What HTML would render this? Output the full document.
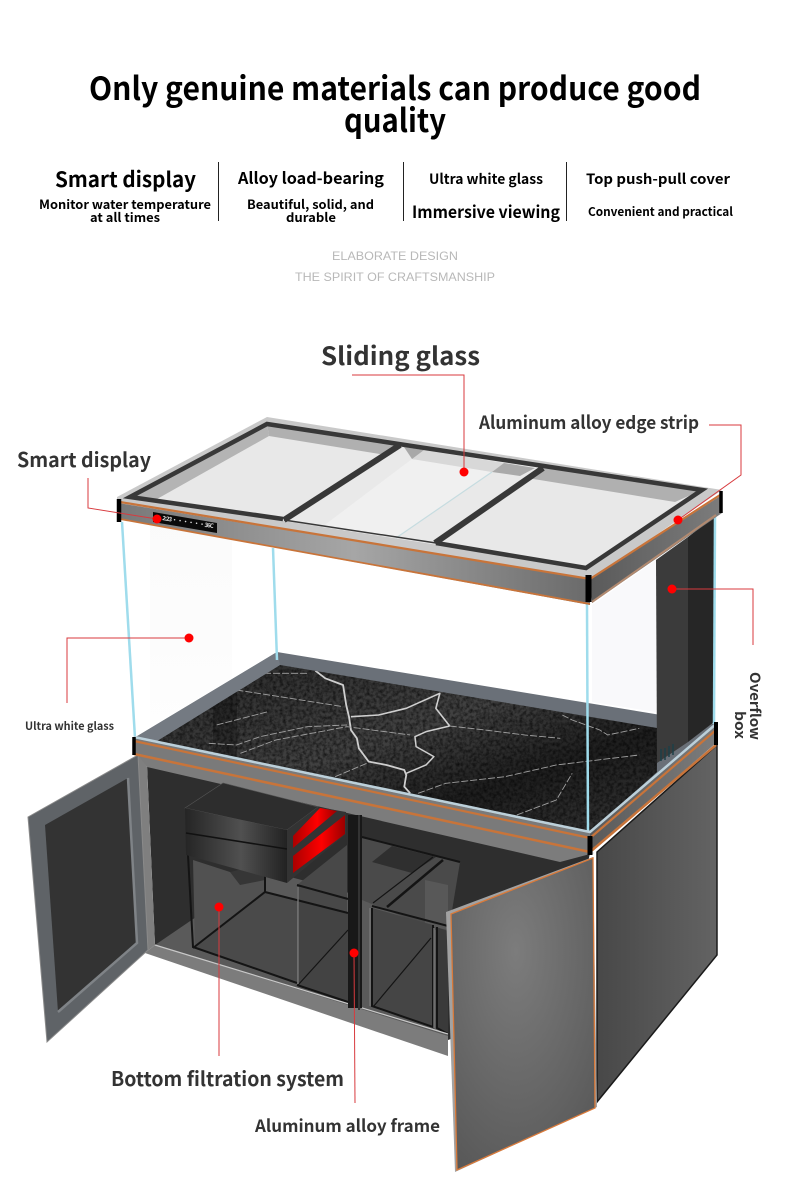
<!DOCTYPE html>
<html><head><meta charset="utf-8"><style>
html,body{margin:0;padding:0;background:#fff}
svg{display:block}
text{font-family:"Noto Sans CJK SC","Liberation Sans",sans-serif;font-weight:700}
</style></head><body>
<svg width="790" height="1204" viewBox="0 0 790 1204" xmlns="http://www.w3.org/2000/svg">
<defs>
<linearGradient id="beam" x1="0" x2="1" y1="0" y2="0"><stop offset="0" stop-color="#787878"/><stop offset=".5" stop-color="#a6a6a6"/><stop offset="1" stop-color="#6a6a6a"/></linearGradient>
<linearGradient id="box" x1="0" x2="1" y1="0" y2="0"><stop offset="0" stop-color="#252525"/><stop offset=".55" stop-color="#505050"/><stop offset="1" stop-color="#222"/></linearGradient>
<linearGradient id="red" x1="0" x2="1" y1="0" y2="0"><stop offset="0" stop-color="#a00"/><stop offset=".55" stop-color="#f00"/><stop offset="1" stop-color="#900"/></linearGradient>
<radialGradient id="door" cx=".45" cy=".3" r=".8"><stop offset="0" stop-color="#7c7c7c"/><stop offset="1" stop-color="#585858"/></radialGradient>
<linearGradient id="side" x1="0" x2="1" y1="0" y2="0"><stop offset="0" stop-color="#484848"/><stop offset="1" stop-color="#636363"/></linearGradient>
<linearGradient id="rband" x1="0" x2="1" y1="0" y2="0"><stop offset="0" stop-color="#5a5a5a"/><stop offset="1" stop-color="#7c7c7c"/></linearGradient>
<linearGradient id="refl" x1="0" x2="0" y1="0" y2="1"><stop offset="0" stop-color="#f0f0f0" stop-opacity=".3"/><stop offset="1" stop-color="#f0f0f0" stop-opacity=".08"/></linearGradient>
<linearGradient id="marble" x1="0" x2="1" y1="0" y2="1"><stop offset="0" stop-color="#2a2a2a"/><stop offset=".45" stop-color="#424242"/><stop offset=".7" stop-color="#1e1e1e"/><stop offset="1" stop-color="#363636"/></linearGradient>
<filter id="noise" x="0" y="0" width="100%" height="100%"><feTurbulence type="fractalNoise" baseFrequency=".3" numOctaves="4" seed="4"/><feColorMatrix values="0 0 0 0 0 0 0 0 0 0 0 0 0 0 0 1.200 0 0 0 -.4"/></filter>
<clipPath id="mclip"><polygon points="157,741 280,665 657,728 657,772 590,832"/></clipPath>
</defs>

<!-- header text -->
<g fill="#000" text-anchor="middle">
<text x="395" y="100" font-size="32" textLength="612" lengthAdjust="spacingAndGlyphs">Only genuine materials can produce good</text>
<text x="395" y="132" font-size="32" textLength="102" lengthAdjust="spacingAndGlyphs">quality</text>
<text x="125.500" y="187" font-size="21" textLength="141" lengthAdjust="spacingAndGlyphs">Smart display</text>
<text x="311" y="184" font-size="16" textLength="146" lengthAdjust="spacingAndGlyphs">Alloy load-bearing</text>
<text x="486" y="184" font-size="14" textLength="114" lengthAdjust="spacingAndGlyphs">Ultra white glass</text>
<text x="658" y="184" font-size="14" textLength="144" lengthAdjust="spacingAndGlyphs">Top push-pull cover</text>
<text x="125" y="209" font-size="12.500" textLength="172" lengthAdjust="spacingAndGlyphs">Monitor water temperature</text>
<text x="125" y="222" font-size="12.500" textLength="70" lengthAdjust="spacingAndGlyphs">at all times</text>
<text x="310.500" y="209" font-size="12.500" textLength="127" lengthAdjust="spacingAndGlyphs">Beautiful, solid, and</text>
<text x="311" y="222" font-size="12.500" textLength="50" lengthAdjust="spacingAndGlyphs">durable</text>
<text x="486" y="218" font-size="16.500" textLength="148" lengthAdjust="spacingAndGlyphs">Immersive viewing</text>
<text x="660.500" y="216" font-size="12" textLength="145" lengthAdjust="spacingAndGlyphs">Convenient and practical</text>
</g>
<g stroke="#222" stroke-width="1"><path d="M218.500 162V221M403.500 162V221M566.500 162V221"/></g>
<g fill="#b8b8b8" text-anchor="middle">
<text x="395" y="260" font-size="12" textLength="126" lengthAdjust="spacingAndGlyphs" style="font-family:'Liberation Sans',sans-serif;font-weight:400">ELABORATE DESIGN</text>
<text x="395" y="281" font-size="12" textLength="200" lengthAdjust="spacingAndGlyphs" style="font-family:'Liberation Sans',sans-serif;font-weight:400">THE SPIRIT OF CRAFTSMANSHIP</text>
</g>

<!-- glass reflections -->
<polygon points="150,525 232,540 232,700 160,735 150,735" fill="url(#refl)"/>
<polygon points="592,605 656,560 656,712 592,702" fill="#f9f9fb"/>

<!-- right cabinet side -->
<polygon points="597,852 717,745 717,955 597,1102" fill="url(#side)" stroke="#1a1a1a" stroke-width="1.500"/>

<!-- base: back wall + floor -->
<polygon points="134,738 277,652 716,724 590,833" fill="#6a7078"/>
<polygon points="157,741 280,665 657,728 657,772 590,832" fill="url(#marble)"/>
<g clip-path="url(#mclip)"><rect x="150" y="660" width="515" height="180" filter="url(#noise)"/></g>
<polygon points="134,738 277,652 280,665 157,741" fill="#747a82"/>
<g clip-path="url(#mclip)">
<polygon points="213,690 237,675 237,760 213,755" fill="#000" opacity=".25"/>
<g transform="translate(110,640) scale(.395,.3333)" fill="none" stroke="#cfcfcf" stroke-linejoin="round">
<polyline vector-effect="non-scaling-stroke" stroke-width="1.800" points="520,92 545,115 590,135 598,195 605,230 610,270 625,295 630,325 655,365 700,375 745,390 750,405 745,440 760,460"/>
<polyline vector-effect="non-scaling-stroke" stroke-width="1.600" points="610,230 680,225 750,205 835,160 825,205 860,258"/>
<polyline vector-effect="non-scaling-stroke" stroke-width="1.500" points="860,258 800,275 772,290 775,320 820,350 800,375 750,400"/>
<g stroke-width=".9" stroke="#a0a0a0" stroke-dasharray="7 2">
<polyline vector-effect="non-scaling-stroke" points="860,258 950,270 1050,285 1140,295"/>
<polyline vector-effect="non-scaling-stroke" points="320,150 430,170 590,200"/>
<polyline vector-effect="non-scaling-stroke" points="250,310 320,315 380,290 500,260 600,255"/>
<polyline vector-effect="non-scaling-stroke" points="270,255 400,215"/>
<polyline vector-effect="non-scaling-stroke" points="780,460 850,430 1000,410 1130,375 1340,345"/>
<polyline vector-effect="non-scaling-stroke" points="1145,225 1170,240 1240,270 1260,285 1340,265"/>
<polyline vector-effect="non-scaling-stroke" points="390,100 500,100"/>
<polyline vector-effect="non-scaling-stroke" points="570,410 650,370"/>
<polyline vector-effect="non-scaling-stroke" points="1030,525 1130,480 1170,400"/>
<polyline vector-effect="non-scaling-stroke" points="330,340 420,300 600,260 760,285"/>
</g></g></g>

<!-- overflow box -->
<polygon points="656,560 688,537 688,742 657,763" fill="#3b3b3b"/>
<polygon points="688,537 714,517 714,722 688,742" fill="#262626"/>
<g stroke="#1d4048" stroke-width="1.500"><path d="M661 749V761M665 748V760M669 746V757M673 744V755"/></g>

<!-- glass edges -->
<g fill="none" stroke="#9fdcec" stroke-width="2.500">
<path d="M122 522L135 738"/><path d="M273 548L277 660"/>
<path d="M587 604L588 832"/><path d="M715 517L714 724"/>
</g>

<!-- cabinet interior -->
<polygon points="147,765 590,853 560,1000 448,1040 155,945" fill="#2e2e2e"/>
<polygon points="155,945 265,870 448,920 448,1046" fill="#5a5a5a"/>
<polygon points="362,838 460,862 448,935 362,900" fill="#4a4a4a"/>
<polygon points="392,846 436,857 412,873 372,862" fill="#2f2f2f"/>
<polygon points="425,880 448,885 448,930 425,925" fill="#585858"/>
<polygon points="297,885 347,845 347,912 297,900" fill="#484848"/>
<polygon points="193,860 230,872 265,873 265,892 195,948" fill="#515151"/>
<polygon points="230,872 246,868 265,873 265,880 240,885" fill="#363636"/>
<polygon points="195,948 265,892 297,900 297,982" fill="#4a4a4a"/>
<polygon points="298,900 348,913 348,1002 298,985" fill="#434343"/>
<polygon points="372,908 433,925 433,1027 373,1007" fill="#454545"/>
<polygon points="436,927 448,931 448,1034 436,1028" fill="#3a3a3a"/>
<g fill="none" stroke="#141414" stroke-width="2">
<path d="M188 855L193 947L297 983"/><path d="M193 948L265 892L348 913"/><path d="M265 874V892"/>
<path d="M297 885L348 899M372 906L448 926"/>
<path d="M362 837L460 862"/>
<path d="M372 908V1006L433 1027V925"/>
<path d="M297 985L348 1002"/>
<path d="M437 927V1028L448 1034"/>
<path d="M387 907L443 860" stroke-width="2.500"/>
</g>
<g fill="none" stroke="#141414" stroke-width="1.200"><path d="M298 985L348 930M373 1007L431 938M373 903L433 857"/></g>
<g fill="none" stroke="#7a7a7a" stroke-width="1.300"><path d="M298 887V984M370 908V1006M434 928V1028"/></g>
<!-- beam under top band -->
<polygon points="134,753 594,853 560,862 147,767" fill="#7c7c7c"/>
<polygon points="138,755 147,767 155,945 145,953" fill="#7f7f7f"/>
<polygon points="145,953 155,945 448,1036 448,1056" fill="#7c7c7c"/>
<path d="M155 945L448 1034" stroke="#c8c8c8" stroke-width="1.200"/>

<!-- filter box -->
<polygon points="185,808 223,783 318,807 287,830" fill="#2d2d2d" stroke="#555" stroke-width=".6"/>
<polygon points="185,808 287,830 287,883 186,855" fill="url(#box)"/>
<path d="M186 833L287 849" stroke="#111" stroke-width="1.500"/>
<polygon points="287,830 318,807 346,812 346,834 287,883" fill="#333"/>
<polygon points="293,836 320,808 337,811 293,848" fill="url(#red)"/>
<polygon points="293,856 345,815 345,834 293,873" fill="url(#red)"/>

<!-- centre post -->
<rect x="348" y="815" width="14" height="193" fill="#181818"/>
<rect x="358" y="815" width="2" height="195" fill="#333"/>

<!-- left door -->
<polygon points="28,817 138,755 148,950 47,1042" fill="#5f6367" stroke="#8a8a8a" stroke-width="1"/>
<polygon points="45,825 128,778 137,943 58,1012" fill="#333"/>
<path d="M128 778L137 943L58 1012" fill="none" stroke="#7f8387" stroke-width="2.500"/>

<!-- right door -->
<polygon points="446,912 593,857 597,1107 455,1172" fill="#a2a2a2"/>
<polygon points="451,914 593,858 595,1108 457,1170" fill="url(#door)" stroke="#d97a3a" stroke-width="1.300"/>

<!-- base band -->
<polygon points="134,738 590,833 590,853 134,753" fill="#7a7a7a"/>
<polygon points="590,833 716,724 716,743 590,853" fill="url(#rband)"/>
<path d="M134 737L590 832L716 724" fill="none" stroke="#bcd0da" stroke-width="2.500"/>
<path d="M134 741L590 838L716 730" fill="none" stroke="#c8743a" stroke-width="2.200"/>
<path d="M134 754L590 852L716 745" fill="none" stroke="#c8743a" stroke-width="2.500"/>
<path d="M134 737V755" stroke="#000" stroke-width="3.500"/>
<path d="M590 836V855" stroke="#000" stroke-width="5"/>
<path d="M716 722V745" stroke="#000" stroke-width="4"/>

<!-- top cover -->
<polygon points="117,497 267,417 722,490 590,580 117,504" fill="#c9c9c9"/>
<polygon points="130,497 267,424 702,490 586,568" fill="#e8e8e8"/>
<polygon points="267,424 702,490 675,502 269,436" fill="#b0b0b0"/>
<polygon points="157,499 269,436 267,424 130,497" fill="#b4b4b4"/>
<polygon points="400,445 543,468 435,543 284,520" fill="#e9e9e9"/>
<polygon points="412,459 492,472 396,538 322,527" fill="#f0f0f0"/>
<polygon points="404,447 424,450 432,461 412,459" fill="#a8a8a8"/>
<polygon points="424,450 504,463 492,472 412,459" fill="#d8d8d8"/>
<polygon points="504,463 535,468 520,476 492,472" fill="#aaa"/>
<path d="M492 472L396 538" stroke="#c6dce0" stroke-width="1.200"/>
<g fill="none" stroke="#383838">
<path d="M283 519L130 497L267 424L702 490L586 568L436 543" stroke-width="4.500"/>
<path d="M284 520L436 543" stroke-width="1.500"/>
<path d="M400 445L284 520" stroke-width="6"/><path d="M543 468L435 543" stroke-width="6"/>
</g>
<!-- top front band -->
<polygon points="118,503 590,579 590,605 118,519" fill="url(#beam)"/>
<polygon points="590,579 722,495 722,513 592,603" fill="url(#rband)"/>
<path d="M120 502L590 579L720 495" fill="none" stroke="#c8743a" stroke-width="2.200"/>
<path d="M120 519L590 604" fill="none" stroke="#c8743a" stroke-width="1.800"/>
<path d="M592 602L716 515" fill="none" stroke="#b28a70" stroke-width="2"/>
<path d="M119 499V522" stroke="#000" stroke-width="4.500"/>
<path d="M588.500 575V602" stroke="#000" stroke-width="6"/>
<path d="M721 491V513" stroke="#000" stroke-width="3.500"/>
<!-- display -->
<polygon points="153,512 217,523 217,533 153,522" fill="#0a0a0a"/>
<text x="162" y="520" font-size="6" fill="#ddd" transform="rotate(9 162 520)" textLength="52" lengthAdjust="spacing">2:23 · · · · · · 36C</text>

<!-- callouts -->
<g fill="none" stroke="#d83a3e" stroke-width="1">
<path d="M352 375H464V472"/>
<path d="M709 425H741V475L678 520"/>
<path d="M88 478V508L157 519"/>
<path d="M672 589H753V645"/>
<path d="M189 638H67V703"/>
<path d="M219 907V1056"/>
<path d="M354 953L355 1103"/>
</g>
<g fill="#f00">
<circle cx="464" cy="472" r="4.500"/><circle cx="678" cy="520" r="4.500"/><circle cx="157" cy="519" r="4.500"/>
<circle cx="672" cy="589" r="4.500"/><circle cx="189" cy="638" r="4.500"/><circle cx="219" cy="907" r="4.500"/><circle cx="354" cy="953" r="4.500"/>
</g>

<!-- labels -->
<g fill="#333">
<text x="321" y="365" font-size="25" textLength="159" lengthAdjust="spacingAndGlyphs">Sliding glass</text>
<text x="479" y="429" font-size="18" textLength="220" lengthAdjust="spacingAndGlyphs">Aluminum alloy edge strip</text>
<text x="17" y="467" font-size="20" textLength="134" lengthAdjust="spacingAndGlyphs">Smart display</text>
<text x="25" y="730" font-size="11" textLength="89" lengthAdjust="spacingAndGlyphs">Ultra white glass</text>
<text x="111" y="1086" font-size="20" textLength="233" lengthAdjust="spacingAndGlyphs">Bottom filtration system</text>
<text x="255" y="1132" font-size="17" textLength="185" lengthAdjust="spacingAndGlyphs">Aluminum alloy frame</text>
<text transform="translate(750,672) rotate(90)" font-size="14" textLength="68" lengthAdjust="spacingAndGlyphs">Overflow</text>
<text transform="translate(735,711) rotate(90)" font-size="14" textLength="28" lengthAdjust="spacingAndGlyphs">box</text>
</g>
</svg>
</body></html>
